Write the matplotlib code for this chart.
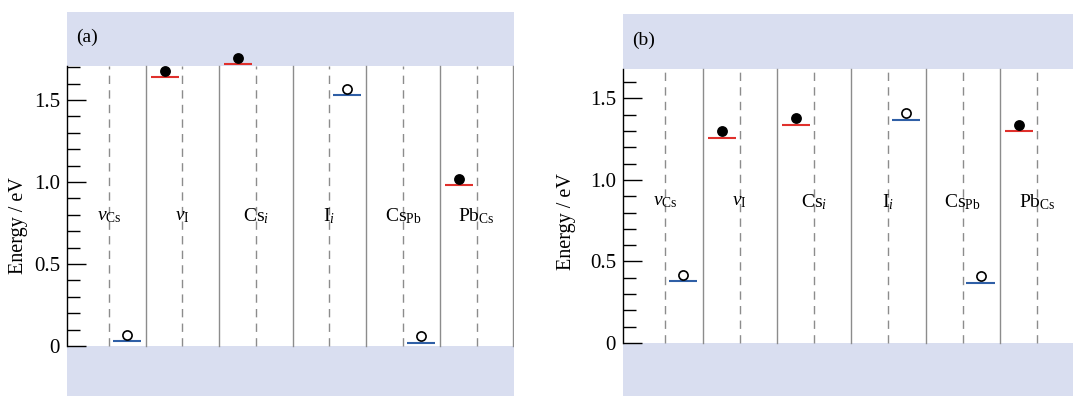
import matplotlib
matplotlib.use("Agg")
import matplotlib.pyplot as plt
import matplotlib.transforms as mtransforms
from matplotlib.ticker import FixedLocator, FuncFormatter
import numpy as np

plt.rcParams["font.family"] = ["Liberation Serif", "DejaVu Serif"]
plt.rcParams["mathtext.fontset"] = "custom"
plt.rcParams["mathtext.rm"] = "Liberation Serif"
plt.rcParams["mathtext.it"] = "Liberation Serif:italic"

# defects and their transition levels (eV above VBM)
defects = [r"$\mathit{v}_{\mathrm{Cs}}$", r"$\mathit{v}_{\mathrm{I}}$", r"Cs$_{\mathit{i}}$",
           r"I$_{\mathit{i}}$", r"Cs$_{\mathrm{Pb}}$", r"Pb$_{\mathrm{Cs}}$"]
kinds = ["acceptor", "donor", "donor", "acceptor", "acceptor", "donor"]
levels_a = [0.03, 1.64, 1.72, 1.53, 0.02, 0.98]
levels_b = [0.38, 1.26, 1.34, 1.37, 0.37, 1.30]
cbm_a = 1.71
cbm_b = 1.68

band_color = "#d9def0"
red = "#e0302c"
blue = "#2f5fa6"
grid_gray = "#8c8c8c"

W, H = 1073, 396
fig = plt.figure(figsize=(W / 100, H / 100), dpi=100)


def draw_panel(rect, levels, cbm, ylim, tag, label_y, ylab_px):
    ax = fig.add_axes(rect)
    ax.set_xlim(-0.07, 6.01)
    ax.set_ylim(*ylim)
    ax.axhspan(cbm, ylim[1], color=band_color, lw=0, zorder=0)
    ax.axhspan(ylim[0], 0, color=band_color, lw=0, zorder=0)

    n = len(defects)
    for i in range(n):
        c = i + 0.5
        ax.plot([c, c], [0, cbm], ls=(0, (6, 4.5)), color=grid_gray, lw=1.0, zorder=1)
        ax.plot([i + 1, i + 1], [0, cbm], ls="-", color=grid_gray, lw=1.0, zorder=1)
        ax.text(c, label_y, defects[i], ha="center", va="center", fontsize=14, zorder=3)

    circ_tr = mtransforms.offset_copy(ax.transData, fig=fig, y=4.6, units="points")
    for i, (e, k) in enumerate(zip(levels, kinds)):
        c = i + 0.5
        if k == "donor":
            x0, x1, col, face = c - 0.43, c - 0.05, red, "black"
        else:
            x0, x1, col, face = c + 0.05, c + 0.43, blue, "white"
        ax.plot([x0, x1], [e, e], color=col, lw=1.5, zorder=2, solid_capstyle="butt")
        ax.plot([(x0 + x1) / 2], [e], marker="o", ms=6.6, mfc=face, mec="black",
                mew=1.2, transform=circ_tr, zorder=4)

    for s in ["top", "right", "bottom"]:
        ax.spines[s].set_visible(False)
    ax.spines["left"].set_bounds(0, cbm)
    ax.spines["left"].set_linewidth(1.0)
    ax.set_xticks([])
    ax.yaxis.set_major_locator(FixedLocator([0, 0.5, 1.0, 1.5]))
    ax.yaxis.set_minor_locator(FixedLocator([v for v in np.arange(0.1, cbm + 1e-6, 0.1)]))
    ax.yaxis.set_major_formatter(FuncFormatter(lambda v, p: "0" if v == 0 else f"{v:.1f}"))
    ax.tick_params(axis="y", which="major", direction="in", length=14, width=1.0,
                   labelsize=15, pad=5)
    ax.tick_params(axis="y", which="minor", direction="in", length=9, width=1.0)
    ax.text(0.02, tag[1], tag[0], transform=ax.transAxes, ha="left", va="center", fontsize=14)
    fig.text(ylab_px[0] / W, 1 - ylab_px[1] / H, "Energy / eV", rotation=90,
             ha="center", va="center", fontsize=14.5)
    return ax


draw_panel([67 / W, 0, 447 / W, 1 - 12 / H], levels_a, cbm_a, (-0.305, 2.037),
           ("(a)", 0.935), 0.79, (19, 226))
draw_panel([623 / W, 0, 452 / W, 1 - 14 / H], levels_b, cbm_b, (-0.325, 2.018),
           ("(b)", 0.932), 0.865, (567, 222))

fig.savefig("out.png", dpi=100)
